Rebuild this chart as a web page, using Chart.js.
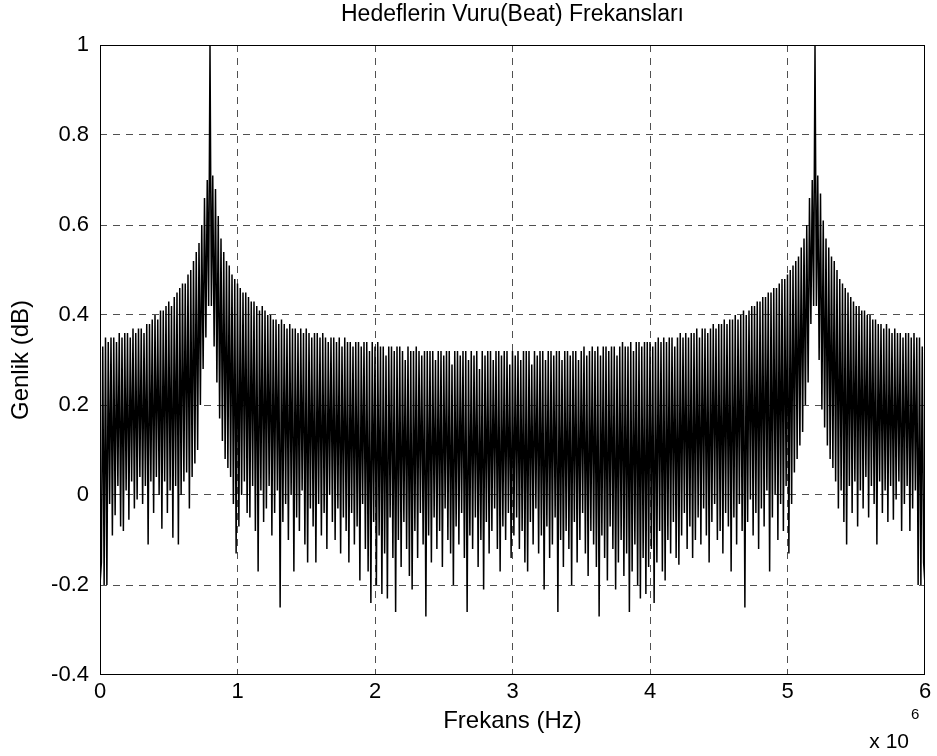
<!DOCTYPE html>
<html>
<head>
<meta charset="utf-8">
<title>Hedeflerin Vuru(Beat) Frekanslari</title>
<script src="https://cdn.jsdelivr.net/npm/chart.js@4.4.1/dist/chart.umd.min.js"></script>
<style>
    html, body { margin: 0; padding: 0; background: #fff; }
    #beatChart { display: block; }
</style>
</head>
<body>
<canvas id="beatChart" width="937" height="756"></canvas>
<script>
// --- Values ---
// frequency grid: one sample every 10 kHz, 0 .. 6 MHz (601 samples)
const freqStep = 10000;

// samples at 0, 20k, 40k ... 6M (tops of the strokes), 5 per 100 kHz
const upperValues = [
    -0.20, 0.33, 0.35, 0.34, 0.35,   0.35, 0.34, 0.36, 0.35, 0.36,
    0.36, 0.35, 0.37, 0.36, 0.37,    0.37, 0.36, 0.38, 0.38, 0.39,
    0.40, 0.39, 0.41, 0.41, 0.42,    0.43, 0.42, 0.44, 0.45, 0.46,
    0.47, 0.47, 0.49, 0.50, 0.52,    0.54, 0.56, 0.60, 0.66, 0.70,
    1.00, 0.71, 0.68, 0.62, 0.57,    0.54, 0.52, 0.51, 0.49, 0.48,
    0.47, 0.46, 0.45, 0.45, 0.44,    0.43, 0.43, 0.42, 0.41, 0.42,
    0.41, 0.40, 0.40, 0.39, 0.39,    0.38, 0.39, 0.38, 0.37, 0.38,
    0.37, 0.37, 0.36, 0.37, 0.36,    0.37, 0.36, 0.35, 0.36, 0.36,
    0.35, 0.36, 0.35, 0.34, 0.35,    0.35, 0.34, 0.35, 0.33, 0.35,
    0.34, 0.34, 0.33, 0.34, 0.34,    0.33, 0.34, 0.34, 0.32, 0.34,
    0.33, 0.34, 0.33, 0.33, 0.31,    0.33, 0.33, 0.32, 0.33, 0.33,
    0.32, 0.30, 0.33, 0.32, 0.32,    0.33, 0.32, 0.31, 0.32, 0.32,
    0.32, 0.32, 0.30, 0.32, 0.32,    0.31, 0.32, 0.32, 0.29, 0.32,
    0.32, 0.31, 0.32, 0.32, 0.30,    0.32, 0.31, 0.32, 0.28, 0.32,
    0.31, 0.32, 0.32, 0.30, 0.32,    0.32, 0.31, 0.32, 0.32, 0.29,
    0.32, 0.31, 0.32, 0.30, 0.32,    0.32, 0.32, 0.29, 0.32, 0.31,
    0.32, 0.32, 0.30, 0.32, 0.32,    0.31, 0.32, 0.32, 0.30, 0.32,
    0.32, 0.31, 0.32, 0.32, 0.30,    0.32, 0.33, 0.31, 0.32, 0.33,
    0.32, 0.33, 0.31, 0.33, 0.33,    0.32, 0.33, 0.33, 0.31, 0.33,
    0.34, 0.33, 0.33, 0.34, 0.32,    0.34, 0.34, 0.33, 0.34, 0.34,
    0.34, 0.33, 0.34, 0.35, 0.34,    0.35, 0.34, 0.35, 0.35, 0.33,
    0.35, 0.36, 0.35, 0.36, 0.35,    0.36, 0.36, 0.37, 0.35, 0.37,
    0.37, 0.36, 0.37, 0.38, 0.37,    0.38, 0.38, 0.39, 0.38, 0.39,
    0.39, 0.40, 0.39, 0.40, 0.41,    0.40, 0.41, 0.42, 0.42, 0.43,
    0.43, 0.44, 0.44, 0.45, 0.45,    0.46, 0.46, 0.47, 0.48, 0.48,
    0.49, 0.50, 0.51, 0.52, 0.53,    0.55, 0.57, 0.60, 0.66, 0.70,
    1.00, 0.71, 0.67, 0.61, 0.57,    0.55, 0.53, 0.52, 0.50, 0.48,
    0.47, 0.46, 0.45, 0.44, 0.43,    0.42, 0.42, 0.41, 0.41, 0.40,
    0.40, 0.39, 0.39, 0.38, 0.38,    0.37, 0.38, 0.37, 0.36, 0.37,
    0.36, 0.36, 0.35, 0.36, 0.36,    0.35, 0.36, 0.35, 0.35, 0.33,
    -0.20
];

// samples at 10k, 30k, 50k ... 5.99M (bottoms of the strokes), 10 per 200 kHz
const lowerValues = [
    -0.15, -0.20, -0.20, -0.02, -0.09, -0.045, 0.02, -0.07, -0.08, 0.01,
    -0.055, 0.03, -0.03, -0.01, 0.04, -0.02, 0.02, -0.11, 0.03, -0.04,
    0.04, 0.00, -0.075, 0.03, -0.04, 0.01, -0.095, 0.02, -0.11, 0.00,
    0.03, 0.05, -0.03, 0.04, 0.07, 0.10, 0.20, 0.28, 0.35, 0.42,
    0.42, 0.33, 0.25, 0.17, 0.12, 0.08, 0.06, 0.04, -0.02, -0.13,
    -0.07, 0.00, 0.03, -0.04, -0.05, 0.02, -0.08, -0.17, 0.01, -0.06,
    -0.03, 0.02, -0.09, -0.04, 0.01, -0.25, -0.06, -0.02, -0.10, 0.00,
    -0.17, -0.05, -0.08, 0.01, -0.11, -0.15, -0.03, -0.07, -0.15, -0.02,
    -0.09, -0.04, -0.12, 0.00, -0.06, -0.10, -0.03, -0.13, -0.05, -0.08,
    -0.15, -0.04, -0.11, -0.07, -0.19, -0.02, -0.12, -0.17, -0.24, -0.06,
    -0.20, -0.09, -0.22, -0.13, -0.23, -0.05, -0.14, -0.26, -0.10, -0.16,
    -0.06, -0.12, -0.18, -0.21, -0.08, -0.14, -0.04, -0.11, -0.27, -0.09,
    -0.15, -0.05, -0.12, -0.08, -0.16, -0.03, -0.10, -0.13, -0.20, -0.07,
    -0.11, -0.04, -0.14, -0.26, -0.09, -0.12, -0.05, -0.16, -0.10, -0.21,
    -0.06, -0.13, -0.08, -0.03, -0.12, -0.17, -0.07, -0.10, -0.04, -0.14,
    -0.09, -0.05, -0.12, -0.08, -0.15, -0.17, -0.06, -0.11, -0.03, -0.13,
    -0.09, -0.21, -0.07, -0.14, -0.11, -0.05, -0.26, -0.10, -0.16, -0.08,
    -0.12, -0.20, -0.06, -0.15, -0.10, -0.04, -0.13, -0.18, -0.08, -0.11,
    -0.16, -0.27, -0.09, -0.14, -0.19, -0.07, -0.12, -0.21, -0.15, -0.10,
    -0.18, -0.13, -0.26, -0.17, -0.11, -0.20, -0.23, -0.14, -0.22, -0.16,
    -0.12, -0.24, -0.15, -0.08, -0.17, -0.19, -0.10, -0.13, -0.06, -0.14,
    -0.155, -0.09, -0.04, -0.12, -0.07, -0.14, -0.10, -0.05, -0.11, -0.03,
    -0.09, -0.15, -0.06, -0.02, -0.10, -0.08, -0.13, -0.04, -0.07, -0.17,
    -0.05, -0.11, -0.02, -0.08, -0.25, -0.06, -0.01, -0.09, -0.04, -0.12,
    -0.03, -0.07, 0.01, -0.17, -0.05, 0.00, -0.10, -0.02, -0.08, 0.02,
    -0.13, -0.02, 0.05, 0.08, 0.11, 0.14, 0.20, 0.25, 0.38, 0.42,
    0.42, 0.30, 0.19, 0.15, 0.11, 0.08, 0.06, 0.03, -0.03, 0.01,
    -0.06, -0.11, 0.02, -0.04, 0.03, -0.07, 0.01, -0.03, 0.04, -0.05,
    0.02, -0.02, -0.11, 0.03, -0.04, 0.01, -0.06, 0.02, -0.055, -0.01,
    0.03, -0.08, -0.02, 0.02, -0.08, -0.03, 0.01, -0.20, -0.20, -0.15
];

const xTickLabels = ['0', '1', '2', '3', '4', '5', '6'];
const yTickValues = [-0.4, -0.2, 0, 0.2, 0.4, 0.6, 0.8, 1];

const titleText = 'Hedeflerin Vuru(Beat) Frekansları';
const xLabelText = 'Frekans (Hz)';
const yLabelText = 'Genlik (dB)';

const FONT = '"Liberation Sans", Arial, Helvetica, sans-serif';

document.addEventListener('DOMContentLoaded', function() {

    // --- interleave the two lists into the sample sequence ---
    const points = [];
    const total = upperValues.length + lowerValues.length;
    for (let i = 0; i < total; i++) {
        const y = (i % 2 === 0) ? upperValues[i / 2] : lowerValues[(i - 1) / 2];
        points.push({ x: i * freqStep, y: y });
    }

    // --- box round the axes + the "x 10^6" exponent, MATLAB style ---
    const matlabFrame = {
        id: 'matlabFrame',
        afterDraw(chart) {
            const { ctx, chartArea } = chart;
            ctx.save();
            ctx.strokeStyle = '#000';
            ctx.lineWidth = 1;
            ctx.strokeRect(chartArea.left + 0.5, chartArea.top + 0.5,
                chartArea.right - chartArea.left - 1, chartArea.bottom - chartArea.top - 1);

            ctx.fillStyle = '#000';
            ctx.textBaseline = 'alphabetic';
            ctx.textAlign = 'right';
            ctx.font = '21px ' + FONT;
            ctx.fillText('x 10', chartArea.right - 16, chartArea.bottom + 73);
            ctx.textAlign = 'left';
            ctx.font = '15px ' + FONT;
            ctx.fillText('6', chartArea.right - 14, chartArea.bottom + 44);
            ctx.restore();
        }
    };

    const edgeAware = (ctx) => {
        const v = ctx.tick ? ctx.tick.value : null;
        if (ctx.scale.axis === 'x') return (v === 0 || v === 6e6) ? 'rgba(0,0,0,0)' : '#505050';
        return (Math.abs(v + 0.4) < 1e-6 || Math.abs(v - 1) < 1e-6) ? 'rgba(0,0,0,0)' : '#505050';
    };

    const ctxBeat = document.getElementById('beatChart').getContext('2d');
    new Chart(ctxBeat, {
        type: 'line',
        data: {
            datasets: [{
                label: 'Genlik',
                data: points,
                borderColor: '#000',
                borderWidth: 1.5,
                pointRadius: 0,
                tension: 0,
                fill: false
            }]
        },
        options: {
            responsive: false,
            animation: false,
            devicePixelRatio: 1,
            layout: { padding: { left: 0, right: 12, top: 0, bottom: 0 } },
            plugins: {
                legend: { display: false },
                tooltip: { enabled: false },
                title: {
                    display: true,
                    fullSize: false,
                    text: titleText,
                    color: '#000',
                    font: { family: FONT, size: 23, weight: 'normal' },
                    padding: { top: 1, bottom: 16.4 }
                }
            },
            scales: {
                x: {
                    type: 'linear',
                    min: 0,
                    max: 6e6,
                    afterBuildTicks(scale) {
                        scale.ticks = xTickLabels.map((t, i) => ({ value: i * 1e6 }));
                    },
                    afterFit(scale) { scale.height = 81; },
                    ticks: {
                        color: '#000',
                        font: { family: FONT, size: 22 },
                        padding: 4,
                        maxRotation: 0,
                        callback: (value, index) => xTickLabels[index]
                    },
                    grid: { color: edgeAware, lineWidth: 1, drawTicks: false },
                    border: { display: false, dash: [7, 6] },
                    title: {
                        display: true,
                        text: xLabelText,
                        color: '#000',
                        font: { family: FONT, size: 24 },
                        padding: { top: 0, bottom: 20 }
                    }
                },
                y: {
                    min: -0.4,
                    max: 1,
                    afterBuildTicks(scale) {
                        scale.ticks = yTickValues.map(v => ({ value: v }));
                    },
                    afterFit(scale) { scale.width = 100; },
                    ticks: {
                        color: '#000',
                        font: { family: FONT, size: 22 },
                        padding: 11,
                        callback: (value) => {
                            const r = Math.round(value * 10) / 10;
                            return r === 0 ? '0' : String(r);
                        }
                    },
                    grid: { color: edgeAware, lineWidth: 1, drawTicks: false },
                    border: { display: false, dash: [7, 6] },
                    title: {
                        display: true,
                        text: yLabelText,
                        color: '#000',
                        font: { family: FONT, size: 24 },
                        padding: { top: 7, bottom: 0 }
                    }
                }
            }
        },
        plugins: [matlabFrame]
    });
});
</script>
</body>
</html>
